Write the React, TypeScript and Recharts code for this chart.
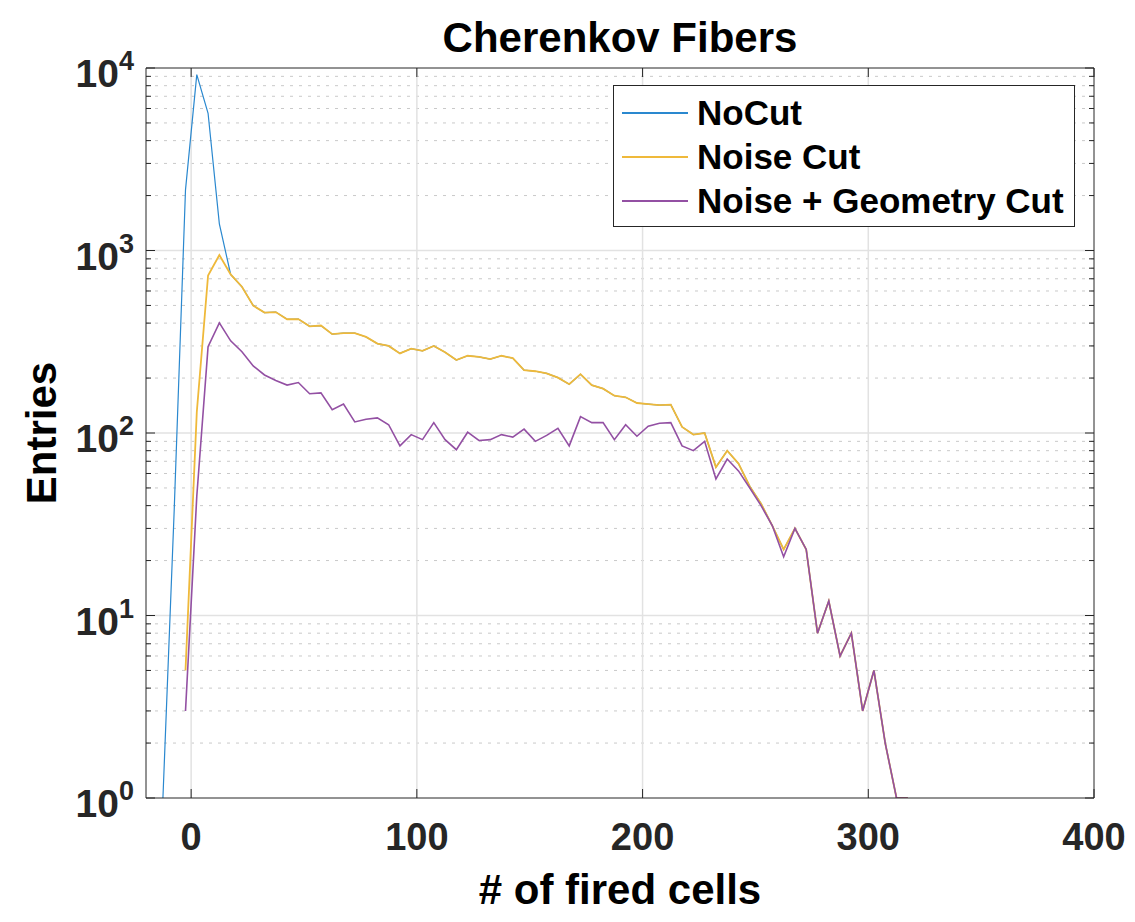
import React from 'react';
import { LineChart, Line, XAxis, YAxis, ReferenceLine, Label, Legend } from 'recharts';

const FONT = '"Liberation Sans", Arial, Helvetica, sans-serif';
const AXIS = '#262626';

// bin centres (# of fired cells)
const bins = [
  -12.5, -7.5, -2.5, 2.5, 7.5, 12.5, 17.5, 22.5, 27.5, 32.5,
  37.5, 42.5, 47.5, 52.5, 57.5, 62.5, 67.5, 72.5, 77.5, 82.5,
  87.5, 92.5, 97.5, 102.5, 107.5, 112.5, 117.5, 122.5, 127.5, 132.5,
  137.5, 142.5, 147.5, 152.5, 157.5, 162.5, 167.5, 172.5, 177.5, 182.5,
  187.5, 192.5, 197.5, 202.5, 207.5, 212.5, 217.5, 222.5, 227.5, 232.5,
  237.5, 242.5, 247.5, 252.5, 257.5, 262.5, 267.5, 272.5, 277.5, 282.5,
  287.5, 292.5, 297.5, 302.5, 307.5, 312.5, 317.5,
];

const noCut = [
  1, 38, 2150, 9200, 5650, 1400, 740, 633, 499, 457,
  460, 420, 421, 384, 388, 348, 353, 353, 336, 309,
  300, 273, 290, 282, 300, 277, 251, 265, 261, 254,
  265, 257, 221, 218, 212, 201, 185, 210, 183, 175,
  160, 157, 146, 144, 142, 143, 108, 98, 100, 65,
  80, 68, 51, 41, 31, 23, 30, 23, 8, 12,
  6, 8, 3, 5, 2, 1, 1,
];

const noiseCut = [
  null, null, 5, 130, 730, 945, 740, 633, 499, 457,
  460, 420, 421, 384, 388, 348, 353, 353, 336, 309,
  300, 273, 290, 282, 300, 277, 251, 265, 261, 254,
  265, 257, 221, 218, 212, 201, 185, 210, 183, 175,
  160, 157, 146, 144, 142, 143, 108, 98, 100, 65,
  80, 68, 51, 41, 31, 23, 30, 23, 8, 12,
  6, 8, 3, 5, 2, 1, 1,
];

const geoCut = [
  null, null, 3, 45, 297, 401, 320, 279, 233, 208,
  194, 183, 189, 164, 166, 134, 144, 115, 119, 121,
  111, 85, 98, 92, 114, 92, 81, 101, 91, 92,
  98, 95, 105, 90, 97, 106, 85, 123, 114, 114,
  92, 111, 96, 109, 113, 114, 85, 80, 90, 56,
  72, 62, 50, 40, 31, 21, 30, 23, 8, 12,
  6, 8, 3, 5, 2, 1, 1,
];

const seriesNames = ['NoCut', 'Noise Cut', 'Noise + Geometry Cut'];
const seriesColors = ['#2a88cf', '#efb93a', '#9350a3'];

const xTicks = [0, 100, 200, 300, 400];
const yMajor = [1, 10, 100, 1000, 10000];
const yMinor = [
  2, 3, 4, 5, 6, 7, 8, 9,
  20, 30, 40, 50, 60, 70, 80, 90,
  200, 300, 400, 500, 600, 700, 800, 900,
  2000, 3000, 4000, 5000, 6000, 7000, 8000, 9000,
];
const yTicks = [...yMajor, ...yMinor].sort((a, b) => a - b);

const data = bins.map((x, i) => ({
  x,
  noCut: noCut[i],
  noiseCut: noiseCut[i],
  geoCut: geoCut[i],
}));

const LeftTick = (props: any) => {
  const { x, y, payload } = props;
  const v = payload.value;
  const major = yMajor.includes(v);
  const ax = x + 12;
  return (
    <g>
      <line x1={ax} x2={ax + (major ? 9 : 5)} y1={y} y2={y} stroke={AXIS} />
      {major && (
        <text x={x} y={y + 19} textAnchor="end" fill={AXIS} fontFamily={FONT} fontWeight="bold" fontSize={39}>
          10<tspan fontSize={27} dy={-17}>{Math.round(Math.log10(v))}</tspan>
        </text>
      )}
    </g>
  );
};

const RightTick = (props: any) => {
  const { x, y, payload } = props;
  const major = yMajor.includes(payload.value);
  return <line x1={x} x2={x - (major ? 9 : 5)} y1={y} y2={y} stroke={AXIS} />;
};

const BottomTick = (props: any) => {
  const { x, y, payload } = props;
  const ay = y - 12;
  return (
    <g>
      <line x1={x} x2={x} y1={ay} y2={ay - 9} stroke={AXIS} />
      <text x={x} y={y + 40} textAnchor="middle" fill={AXIS} fontFamily={FONT} fontWeight="bold" fontSize={38}>
        {payload.value}
      </text>
    </g>
  );
};

const TopTick = (props: any) => {
  const { x, y } = props;
  return <line x1={x} x2={x} y1={y} y2={y + 9} stroke={AXIS} />;
};

const LegendBox = ({ payload }: any) => {
  const items = [...(payload || [])].sort(
    (a: any, b: any) => seriesNames.indexOf(a.value) - seriesNames.indexOf(b.value)
  );
  return (
    <div
      style={{
        width: 462,
        height: 142,
        border: `1px solid ${AXIS}`,
        background: '#fff',
        boxSizing: 'border-box',
        paddingTop: 5,
      }}
    >
      {items.map((p: any) => (
        <div key={p.value} style={{ display: 'flex', alignItems: 'center', height: 44 }}>
          <div
            style={{
              marginLeft: 8,
              width: 66,
              height: 2,
              background: seriesColors[seriesNames.indexOf(p.value)],
            }}
          />
          <span
            style={{
              marginLeft: 9,
              fontFamily: FONT,
              fontWeight: 'bold',
              fontSize: 35,
              color: '#000',
              lineHeight: '44px',
              whiteSpace: 'nowrap',
            }}
          >
            {p.value}
          </span>
        </div>
      ))}
    </div>
  );
};

export default function App() {
  return (
    <div style={{ position: 'absolute', left: 0, top: 0, width: 1135, height: 922, background: '#fff' }}>
      <LineChart width={1135} height={922} data={data} margin={{ top: 0, right: 0, bottom: 0, left: 0 }}>
        <XAxis
          dataKey="x"
          type="number"
          domain={[-20, 400]}
          ticks={xTicks}
          interval={0}
          allowDataOverflow
          height={124}
          tickSize={0}
          tickMargin={12}
          tickLine={false}
          tick={<BottomTick />}
          axisLine={{ stroke: AXIS }}
        >
          <Label
            value="# of fired cells"
            position="insideBottom"
            offset={18}
            fill="#000"
            fontSize={42}
            fontWeight="bold"
            fontFamily={FONT}
          />
        </XAxis>
        <XAxis
          xAxisId="top"
          orientation="top"
          dataKey="x"
          type="number"
          domain={[-20, 400]}
          ticks={xTicks}
          interval={0}
          allowDataOverflow
          height={68}
          tickSize={0}
          tickMargin={0}
          tickLine={false}
          tick={<TopTick />}
          axisLine={{ stroke: AXIS }}
        >
          <Label
            value="Cherenkov Fibers"
            position="insideTop"
            offset={22}
            fill="#000"
            fontSize={42}
            fontWeight="bold"
            fontFamily={FONT}
          />
        </XAxis>
        <YAxis
          scale="log"
          domain={[1, 10000]}
          ticks={yTicks}
          interval={0}
          allowDataOverflow
          width={146}
          tickSize={0}
          tickMargin={12}
          tickLine={false}
          tick={<LeftTick />}
          axisLine={{ stroke: AXIS }}
        >
          <Label
            value="Entries"
            angle={-90}
            position="insideLeft"
            offset={41}
            style={{ textAnchor: 'middle' }}
            fill="#000"
            fontSize={42}
            fontWeight="bold"
            fontFamily={FONT}
          />
        </YAxis>
        <YAxis
          yAxisId="right"
          orientation="right"
          scale="log"
          domain={[1, 10000]}
          ticks={yTicks}
          interval={0}
          allowDataOverflow
          width={41}
          tickSize={0}
          tickMargin={0}
          tickLine={false}
          tick={<RightTick />}
          axisLine={{ stroke: AXIS }}
        />

        {yMinor.map((v) => (
          <ReferenceLine key={`mn${v}`} y={v} stroke="#c9c9c9" strokeDasharray="3 6" />
        ))}
        {yMajor.slice(1, -1).map((v) => (
          <ReferenceLine key={`mj${v}`} y={v} stroke="#e2e2e2" strokeWidth={1.5} />
        ))}
        {xTicks.slice(0, -1).map((v) => (
          <ReferenceLine key={`vx${v}`} x={v} stroke="#e2e2e2" strokeWidth={1.5} />
        ))}

        <Line
          name={seriesNames[0]}
          type="linear"
          dataKey="noCut"
          stroke={seriesColors[0]}
          strokeWidth={1.2}
          dot={false}
          activeDot={false}
          isAnimationActive={false}
        />
        <Line
          name={seriesNames[1]}
          type="linear"
          dataKey="noiseCut"
          stroke={seriesColors[1]}
          strokeWidth={1.8}
          dot={false}
          activeDot={false}
          isAnimationActive={false}
        />
        <Line
          name={seriesNames[2]}
          type="linear"
          dataKey="geoCut"
          stroke={seriesColors[2]}
          strokeWidth={1.6}
          dot={false}
          activeDot={false}
          isAnimationActive={false}
        />

        <Legend
          layout="horizontal"
          verticalAlign="middle"
          align="center"
          content={<LegendBox />}
          wrapperStyle={{ left: 613, top: 85, width: 462, height: 142 }}
        />
      </LineChart>
    </div>
  );
}
